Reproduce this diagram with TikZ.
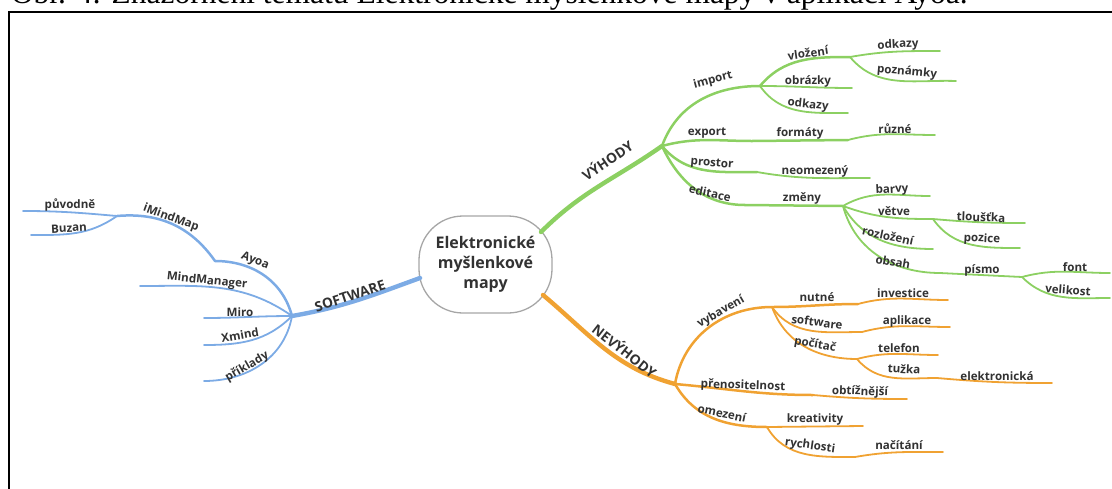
\documentclass[tikz,border=0pt]{standalone}
\usepackage{fontspec}
\newfontfamily\capfont{Liberation Serif}
\newfontfamily\osfont{Open Sans}
\definecolor{gr}{RGB}{140,208,98}
\definecolor{orn}{RGB}{240,162,50}
\definecolor{blu}{RGB}{124,171,229}
\definecolor{txt}{RGB}{50,50,50}
\tikzset{
  lbl/.style={font=\osfont\bfseries\fontsize{11.6}{13}\selectfont, text=txt, inner sep=0pt},
  big/.style={font=\osfont\bfseries\fontsize{13.8}{16}\selectfont, text=txt, inner sep=0pt},
  mainbr/.style={line width=4.4pt, line cap=round},
  subbr/.style={line width=2.5pt, line cap=round},
  leafbr/.style={line width=1.8pt, line cap=round},
}
\begin{document}
\begin{tikzpicture}[x=1pt,y=1pt]
\useasboundingbox (0,0) rectangle (1112,-488);
\clip (0,0) rectangle (1112,-488);
% caption and frame
\node[anchor=base west, inner sep=0pt, outer sep=0pt, font=\capfont\fontsize{31.5}{34}\selectfont] (cap) at (11,-3) {Obr. 4: Znázornění tématu Elektronické myšlenkové mapy v aplikaci Ayoa.};
\draw[line width=2pt] (9,-495) -- (9,-12) -- (1120,-12);
% centre
\node[draw=black!35, line width=1.3pt, rounded corners=44pt, minimum width=133pt, minimum height=97pt, fill=white,
  font=\osfont\bfseries\fontsize{16}{20}\selectfont, text=txt, align=center] (root) at (485.5,-264.5) {Elektronické\\myšlenkové\\mapy};
% ---------- coordinates ----------
% green
\coordinate (rv) at (541,-232); \coordinate (hv) at (662,-146);
\coordinate (ih) at (760,-86); \coordinate (vh) at (850,-57);
\coordinate (eodkA) at (940,-51); \coordinate (epoz) at (956,-81);
\coordinate (eobr) at (852,-88); \coordinate (eodkB) at (848,-113);
\coordinate (eh) at (752,-141); \coordinate (fh) at (848,-140); \coordinate (eruz) at (935,-135);
\coordinate (ph) at (757,-172); \coordinate (eneo) at (870,-178);
\coordinate (edh) at (745,-205); \coordinate (zh) at (843,-206);
\coordinate (ebar) at (930,-196); \coordinate (vth) at (933,-219);
\coordinate (etlo) at (1025,-223); \coordinate (eposi) at (1020,-248);
\coordinate (eroz) at (933,-249); \coordinate (obh) at (940,-273); \coordinate (psh) at (1022,-277);
\coordinate (efont) at (1110,-273); \coordinate (evel) at (1110,-298);
% orange
\coordinate (rn) at (543,-295); \coordinate (nh) at (675,-384);
\coordinate (vbh) at (772,-307); \coordinate (nuh) at (858,-304); \coordinate (einv) at (948,-300);
\coordinate (swh) at (862,-332); \coordinate (eapl) at (950,-327);
\coordinate (pch) at (857,-359); \coordinate (etel) at (938,-355);
\coordinate (tuh) at (937,-378); \coordinate (eele) at (1052,-383);
\coordinate (prh) at (813,-395); \coordinate (eobt) at (907,-399);
\coordinate (omh) at (767,-427); \coordinate (ekre) at (863,-426);
\coordinate (ryh) at (855,-457); \coordinate (enac) at (943,-452);
% blue
\coordinate (rs) at (420,-278); \coordinate (sh) at (292,-316);
\coordinate (ayh) at (215,-261); \coordinate (imh) at (117,-216);
\coordinate (epuv) at (23,-211); \coordinate (ebuz) at (31,-235);
\coordinate (emm) at (140,-286); \coordinate (emir) at (204,-318);
\coordinate (exm) at (204,-345); \coordinate (epr) at (204,-381);
% ---------- branches ----------
\begin{scope}[draw=gr]
\draw[mainbr] (rv) to[out=45,in=215] (hv);
\draw[subbr] (hv) to[out=70,in=180] (ih);
\draw[subbr] (ih) to[out=50,in=180] (vh);
\draw[leafbr] (vh) to[out=10,in=180] (eodkA);
\draw[leafbr] (vh) to[out=-50,in=178] (epoz);
\draw[leafbr] (ih) to[out=0,in=180] (eobr);
\draw[leafbr] (ih) to[out=-55,in=180] (eodkB);
\draw[subbr] (hv) to[out=15,in=180] (eh);
\draw[subbr] (eh) -- (fh);
\draw[leafbr] (fh) to[out=15,in=180] (eruz);
\draw[subbr] (hv) to[out=-50,in=180] (ph);
\draw[leafbr] (ph) to[out=-10,in=180] (eneo);
\draw[subbr] (hv) to[out=-65,in=180] (edh);
\draw[subbr] (edh) -- (zh);
\draw[leafbr] (zh) to[out=30,in=180] (ebar);
\draw[leafbr] (zh) to[out=-20,in=180] (vth);
\draw[leafbr] (vth) to[out=-5,in=180] (etlo);
\draw[leafbr] (vth) to[out=-55,in=180] (eposi);
\draw[leafbr] (zh) to[out=-60,in=180] (eroz);
\draw[leafbr] (zh) to[out=-75,in=180] (obh);
\draw[leafbr] (obh) -- (psh);
\draw[leafbr] (psh) to[out=15,in=180] (efont);
\draw[leafbr] (psh) to[out=-45,in=180] (evel);
\end{scope}
\begin{scope}[draw=orn]
\draw[mainbr] (rn) to[out=-40,in=165] (nh);
\draw[subbr] (nh) to[out=80,in=180] (vbh);
\draw[subbr] (vbh) to[out=0,in=180] (nuh);
\draw[leafbr] (nuh) to[out=15,in=180] (einv);
\draw[leafbr] (vbh) to[out=-55,in=180] (swh);
\draw[leafbr] (swh) to[out=15,in=180] (eapl);
\draw[leafbr] (vbh) to[out=-70,in=180] (pch);
\draw[leafbr] (pch) to[out=15,in=180] (etel);
\draw[leafbr] (pch) to[out=-50,in=180] (tuh);
\draw[leafbr] (tuh) to[out=-5,in=180] (eele);
\draw[subbr] (nh) to[out=-5,in=180] (prh);
\draw[leafbr] (prh) to[out=-5,in=180] (eobt);
\draw[subbr] (nh) to[out=-60,in=180] (omh);
\draw[leafbr] (omh) -- (ekre);
\draw[leafbr] (omh) to[out=-60,in=180] (ryh);
\draw[leafbr] (ryh) to[out=10,in=180] (enac);
\end{scope}
\begin{scope}[draw=blu]
\draw[mainbr] (rs) to[out=200,in=10] (sh);
\draw[subbr] (sh) to[out=105,in=0] (ayh);
\draw[subbr] (ayh) to[out=125,in=5] (imh);
\draw[leafbr] (imh) to[out=175,in=0] (epuv);
\draw[leafbr] (imh) to[out=215,in=0] (ebuz);
\draw[leafbr] (sh) to[out=145,in=0] (emm);
\draw[leafbr] (sh) to[out=180,in=0] (emir);
\draw[leafbr] (sh) to[out=225,in=0] (exm);
\draw[leafbr] (sh) to[out=260,in=0] (epr);
\end{scope}
% ---------- labels ----------
\node[big, rotate=34] (vyh) at (607,-160) {VÝHODY};
\node[lbl, rotate=15] (limp) at (713,-80) {import};
\node[lbl, rotate=8] (lvlo) at (808,-53) {vložení};
\node[lbl, rotate=3] (lodkA) at (898,-45) {odkazy};
\node[lbl, rotate=-5] (lpoz) at (907,-72) {poznámky};
\node[lbl] (lobr) at (808,-81) {obrázky};
\node[lbl, rotate=-6] (lodkB) at (808,-105) {odkazy};
\node[lbl] (lexp) at (707,-133) {export};
\node[lbl] (lfor) at (800,-133) {formáty};
\node[lbl] (lruz) at (895,-129) {různé};
\node[lbl, rotate=-5] (lpro) at (712,-164) {prostor};
\node[lbl] (lneo) at (815,-171) {neomezený};
\node[lbl, rotate=-12] (ledi) at (710,-193) {editace};
\node[lbl] (lzme) at (802,-198) {změny};
\node[lbl, rotate=3] (lbar) at (892,-190) {barvy};
\node[lbl] (lvet) at (894,-211) {větve};
\node[lbl, rotate=-2] (ltlo) at (981,-217) {tloušťka};
\node[lbl, rotate=-3] (lpozi) at (982,-239) {pozice};
\node[lbl, rotate=-12] (lroz) at (888,-236) {rozložení};
\node[lbl, rotate=-10] (lobs) at (893,-262) {obsah};
\node[lbl] (lpis) at (982,-270) {písmo};
\node[lbl] (lfon) at (1075,-267) {font};
\node[lbl, rotate=-4] (lvel) at (1068,-290) {velikost};
\node[big, rotate=-38] (nev) at (625,-350) {NEVÝHODY};
\node[lbl, rotate=30] (lvyb) at (721,-312) {vybavení};
\node[lbl] (lnut) at (817,-297) {nutné};
\node[lbl] (linv) at (903,-293) {investice};
\node[lbl, rotate=-7] (lsof) at (817,-322) {software};
\node[lbl] (lapl) at (907,-321) {aplikace};
\node[lbl, rotate=-10] (lpoc) at (815,-345) {počítač};
\node[lbl] (ltel) at (899,-348) {telefon};
\node[lbl, rotate=-3] (ltuz) at (904,-369) {tužka};
\node[lbl] (lele) at (997,-376) {elektronická};
\node[lbl, rotate=-2] (lpre) at (743,-386) {přenositelnost};
\node[lbl, rotate=-2] (lobt) at (860,-392) {obtížnější};
\node[lbl, rotate=-12] (lome) at (722,-413) {omezení};
\node[lbl] (lkre) at (815,-419) {kreativity};
\node[lbl, rotate=-8] (lrych) at (810,-446) {rychlosti};
\node[lbl] (lnac) at (899,-445) {načítání};
\node[big, rotate=18] (sw) at (350,-296) {SOFTWARE};
\node[lbl, rotate=-22] (lay) at (255,-261) {Ayoa};
\node[lbl, rotate=-20] (limm) at (171,-218) {iMindMap};
\node[lbl] (lpuv) at (70,-205) {původně};
\node[lbl, rotate=3] (lbuz) at (69,-228) {Buzan};
\node[lbl, rotate=-6] (lmm) at (207,-281) {MindManager};
\node[lbl] (lmir) at (240,-312) {Miro};
\node[lbl, rotate=10] (lxm) at (240,-335) {Xmind};
\node[lbl, rotate=30] (lpr) at (247,-367) {příklady};
\end{tikzpicture}
\end{document}
